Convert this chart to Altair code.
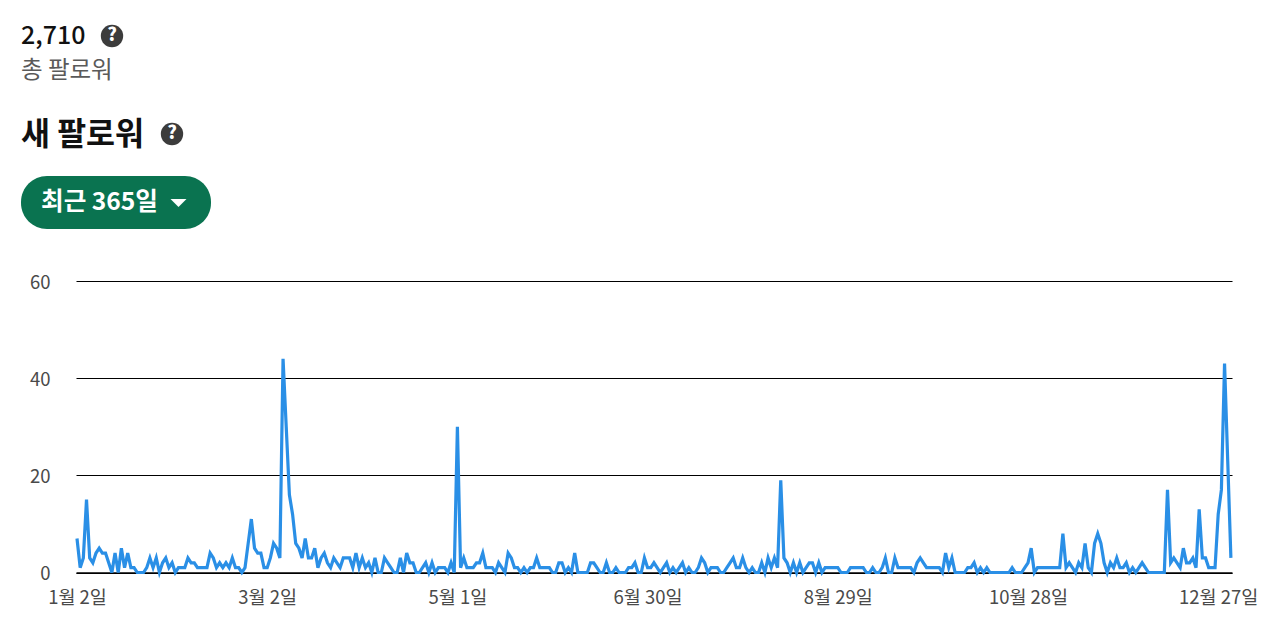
import altair as alt
import pandas as pd

seg_a = [7,1,3,15,3,2,4,5,4,4,2,0,4,0,5,1,4,1,1,0,0,0,1,3,1,3,0,2,3,1,2,0,1,1,1,3,2,2,1,1,
         1,1,4,3,1,2,1,2,1,3,1,1,0,1,6,11,5,4,4,1,1,3,6,5,3,44,30,16,12,6]
seg_b = [5,3,7,3,3,5,1,3,4,2,1,3,2,1,3,3,3,1,4,1,3,1,2,0,3,0,0,3,2,1,0,0,3,0,4,2,2,0,0,1,
         2,0,2,0,1,1,1,0,2,0,30,1,3,1,1,1,2,2,4,1,1,1,0,2,1,0,4,3,1,1]
seg_c = [0,1,0,1,1,3,1,1,1,1,0,0,2,2,0,1,0,4,0,0,0,0,2,2,1,0,0,2,0,0,1,0,0,0,1,1,2,0,0,3,
         1,1,2,1,0,1,2,0,1,0,1,2,0,1,0,0,1,3,2,0,1,1,1,0,0,1,2,3,1,1,3,1,0]
seg_d = [1,0,0,2,0,3,1,3,1,19,3,2,0,2,0,2,0,1,2,2,0,2,0,1,1,1,1,1,0,0,0,1,1,1,1,1,0,0,1,0,
         0,1,3,0,0,3,1,1,1,1,1,0,2,3,2,1,1,1,1,1,0,4,1,3,0,0,0,0,1,1,2,0,1,0,1,0]
seg_e = [0,0,0,0,0,0,1,0,0,0,1,2,5,0,1,1,1,1,1,1,1,1,8,1,2,1,0,2,1,6,1,0,6,8,6,2,0,2,1,3,
         1,1,2,0,1,0,1,2,1,0,0,0,0,0,0,17,2,3,2,1,5,2,2,3,1,13,3,3,1,1,1,12,17,43,23,3]
followers = seg_a + seg_b + seg_c + seg_d + seg_e
days = list(range(len(followers)))
tick_days = [0, 60, 120, 180, 240, 300, 360]
tick_labels = ["1월 2일", "3월 2일", "5월 1일", "6월 30일", "8월 29일", "10월 28일", "12월 27일"]
y_ticks = [0, 20, 40, 60]

FONT = "Noto Sans CJK KR"
OX, OY = 76, 281

label_expr = "{" + ",".join(f"'{d}':'{l}'" for d, l in zip(tick_days, tick_labels)) + "}[datum.value]"

df = pd.DataFrame({"day": days, "followers": followers})

line = alt.Chart(df).mark_line(color="#2a8fe6", strokeWidth=3.2, strokeJoin="miter", clip=False).encode(
    x=alt.X("day:Q",
            scale=alt.Scale(domain=[-0.315, 364.35], nice=False, zero=False),
            axis=alt.Axis(values=tick_days, labelExpr=label_expr, title=None, grid=False,
                          domainColor="#000000", domainWidth=1.3, ticks=False,
                          labelFont=FONT, labelFontSize=18.5, labelColor="#4a4a4a", labelPadding=16,
                          labelOverlap=False, labelFlush=False)),
    y=alt.Y("followers:Q",
            scale=alt.Scale(domain=[0, 60], nice=False),
            axis=alt.Axis(values=y_ticks, title=None, grid=True, gridColor="#000000", gridWidth=1.2,
                          gridOpacity=1, domain=False, ticks=False, labelOffset=1,
                          labelFont=FONT, labelFontSize=18.5, labelColor="#4a4a4a", labelPadding=26)),
)

def px(x):
    return x - OX

def py(y):
    return y - OY

def text(s, x, y, size, color, weight="normal"):
    return alt.Chart(pd.DataFrame({"t": [s]})).mark_text(
        font=FONT, fontSize=size, color=color, fontWeight=weight, align="left", baseline="alphabetic",
    ).encode(text="t:N", x=alt.value(px(x)), y=alt.value(py(y)))

def help_icon(cx, cy):
    dot = alt.Chart(pd.DataFrame({"a": [0]})).mark_point(
        shape="circle", filled=True, color="#3c3c3c", size=500, opacity=1,
    ).encode(x=alt.value(px(cx)), y=alt.value(py(cy)))
    q = alt.Chart(pd.DataFrame({"t": ["?"]})).mark_text(
        font=FONT, fontSize=18, fontWeight=900, color="#ffffff", align="center", baseline="middle",
    ).encode(text="t:N", x=alt.value(px(cx)), y=alt.value(py(cy)))
    return dot + q

button = alt.Chart(pd.DataFrame({"a": [0]})).mark_bar(
    color="#0a7350", cornerRadius=26, clip=False,
).encode(x=alt.value(px(21)), x2=alt.value(px(211)), y=alt.value(py(176)), y2=alt.value(py(229)))

arrow = alt.Chart(pd.DataFrame({"a": [0]})).mark_point(
    shape="M-1,-0.5L1,-0.5L0,0.5Z", filled=True, color="#ffffff", size=256, opacity=1,
).encode(x=alt.value(px(178.5)), y=alt.value(py(203)))

chart = alt.layer(
    line,
    text("2,710", 21, 44, 25, "#111111", 500),
    text("총 팔로워", 21, 78, 23.5, "#5a5a5a"),
    text("새 팔로워", 21, 145, 31.5, "#111111", "bold"),
    help_icon(112, 36),
    help_icon(172, 134),
    button,
    text("최근 365일", 41, 210, 24.6, "#ffffff", "bold"),
    arrow,
).resolve_scale(x="shared", y="shared").properties(
    width=1156, height=291.5,
    autosize=alt.AutoSizeParams(type="none"),
    padding={"left": OX - 8, "top": OY - 8, "right": 40, "bottom": 50},
).configure_view(stroke=None)

chart.save("out.html", embed_options={"renderer": "svg", "actions": False})
